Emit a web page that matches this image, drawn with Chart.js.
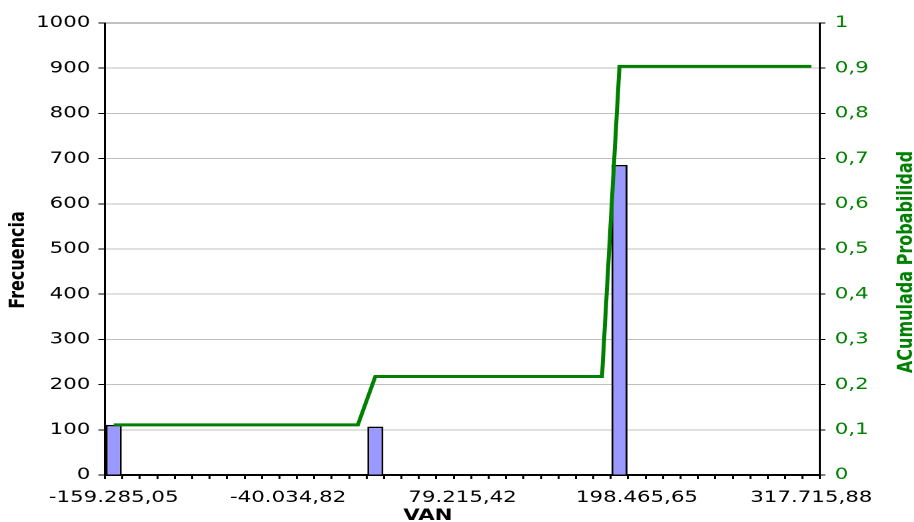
<!DOCTYPE html>
<html lang="es">
<head>
  <meta charset="UTF-8">
  <title>Histograma VAN</title>
  <script src="https://cdn.jsdelivr.net/npm/chart.js"></script>
  <style>
    html, body {
      margin: 0;
      padding: 0;
      background: #fff;
      overflow: hidden;
    }
    /* el original esta estirado a lo ancho */
    #marco {
      width: 686px;
      height: 522px;
      transform: scaleX(1.3324);
      transform-origin: 0 0;
    }
  </style>
</head>
<body>

  <div id="marco"><canvas id="grafico"></canvas></div>

  <script>
    // limites de clase del VAN
    const vanBins = [
      -159285.05, -147360.03, -135435.00, -123509.98, -111584.96,
      -99659.93, -87734.91, -75809.89, -63884.86, -51959.84,
      -40034.82, -28109.79, -16184.77, -4259.75, 7665.28,
      19590.30, 31515.32, 43440.35, 55365.37, 67290.39,
      79215.42, 91140.44, 103065.46, 114990.48, 126915.51,
      138840.53, 150765.55, 162690.58, 174615.60, 186540.62,
      198465.65, 210390.67, 222315.69, 234240.72, 246165.74,
      258090.76, 270015.79, 281940.81, 293865.83, 305790.86,
      317715.88
    ];

    const frecuencia = [
      111, 0, 0, 0, 0, 0, 0, 0, 0, 0,
      0, 0, 0, 0, 0, 107, 0, 0, 0, 0,
      0, 0, 0, 0, 0, 0, 0, 0, 0, 686,
      0, 0, 0, 0, 0, 0, 0, 0, 0, 0,
      0
    ];

    const acumulada = [
      0.111, 0.111, 0.111, 0.111, 0.111, 0.111, 0.111, 0.111, 0.111, 0.111,
      0.111, 0.111, 0.111, 0.111, 0.111, 0.218, 0.218, 0.218, 0.218, 0.218,
      0.218, 0.218, 0.218, 0.218, 0.218, 0.218, 0.218, 0.218, 0.218, 0.904,
      0.904, 0.904, 0.904, 0.904, 0.904, 0.904, 0.904, 0.904, 0.904, 0.904,
      0.904
    ];

    const etiquetaCada = 10;

    const fuente = "'DejaVu Sans', Verdana, sans-serif";
    Chart.defaults.font.family = fuente;
    Chart.defaults.font.size = 16;
    Chart.defaults.color = '#000';

    function formatoES(v) {
      const partes = Math.abs(v).toFixed(2).split('.');
      const entero = partes[0].replace(/\B(?=(\d{3})+(?!\d))/g, '.');
      return (v < 0 ? '-' : '') + entero + ',' + partes[1];
    }

    // titulos de los ejes (el de la derecha se lee de abajo hacia arriba)
    const titulosEjes = {
      id: 'titulosEjes',
      afterDraw(chart) {
        const { ctx, chartArea: a } = chart;
        const medioY = (a.top + a.bottom) / 2;
        ctx.save();
        ctx.font = 'bold 16px ' + fuente;
        ctx.textAlign = 'center';
        ctx.textBaseline = 'alphabetic';
        ctx.fillStyle = '#000';
        ctx.fillText('VAN', (a.left + a.right) / 2 - 26, chart.height - 2);

        ctx.save();
        ctx.translate(18, medioY + 11);
        ctx.rotate(-Math.PI / 2);
        ctx.fillText('Frecuencia', 0, 0);
        ctx.restore();

        ctx.fillStyle = '#008000';
        ctx.translate(a.right + 69, medioY + 13);
        ctx.rotate(-Math.PI / 2);
        ctx.fillText('ACumulada Probabilidad', 0, 0);
        ctx.restore();
      }
    };

    new Chart(document.getElementById('grafico'), {
      data: {
        labels: vanBins,
        datasets: [
          {
            type: 'line',
            label: 'ACumulada Probabilidad',
            data: acumulada,
            yAxisID: 'y1',
            borderColor: '#008000',
            borderWidth: 3,
            pointRadius: 0,
            tension: 0,
            order: 0
          },
          {
            type: 'bar',
            label: 'Frecuencia',
            data: frecuencia,
            yAxisID: 'y',
            backgroundColor: '#9999FF',
            borderColor: '#000',
            borderWidth: c => c.raw ? 1.5 : 0,
            barPercentage: 0.92,
            categoryPercentage: 1,
            order: 1
          }
        ]
      },
      options: {
        responsive: true,
        maintainAspectRatio: false,
        animation: false,
        devicePixelRatio: 2,
        layout: { padding: { top: 23, left: 0, right: 0, bottom: 0 } },
        plugins: {
          legend: { display: false },
          tooltip: { enabled: false }
        },
        scales: {
          x: {
            type: 'category',
            offset: true,
            grid: {
              offset: true,
              drawOnChartArea: false,
              drawTicks: true,
              tickLength: 4,
              color: '#000',
              lineWidth: 1.5
            },
            border: { color: '#000', width: 2 },
            ticks: {
              autoSkip: false,
              maxRotation: 0,
              minRotation: 0,
              padding: 9,
              color: '#000',
              callback: (v, i) => i % etiquetaCada === 0 ? formatoES(vanBins[i]) : ''
            },
            afterFit: s => { s.height = 47; }
          },
          y: {
            position: 'left',
            min: 0,
            max: 1000,
            ticks: { stepSize: 100, padding: 6, color: '#000', callback: v => String(v) },
            grid: {
              color: c => (c.tick && c.tick.value === 1000) ? '#808080' : '#c0c0c0',
              tickColor: '#000',
              tickLength: 5,
              lineWidth: 1
            },
            border: { color: '#000', width: 1.5 },
            afterFit: s => { s.width = 78.8; }
          },
          y1: {
            position: 'right',
            min: 0,
            max: 1,
            ticks: {
              stepSize: 0.1,
              padding: 7,
              color: '#008000',
              callback: v => String(Math.round(v * 10) / 10).replace('.', ',')
            },
            grid: { drawOnChartArea: false, tickColor: '#000', tickLength: 4 },
            border: { color: '#000', width: 1.5 },
            afterFit: s => { s.width = 70.55; }
          }
        }
      },
      plugins: [titulosEjes]
    });
  </script>
</body>
</html>
